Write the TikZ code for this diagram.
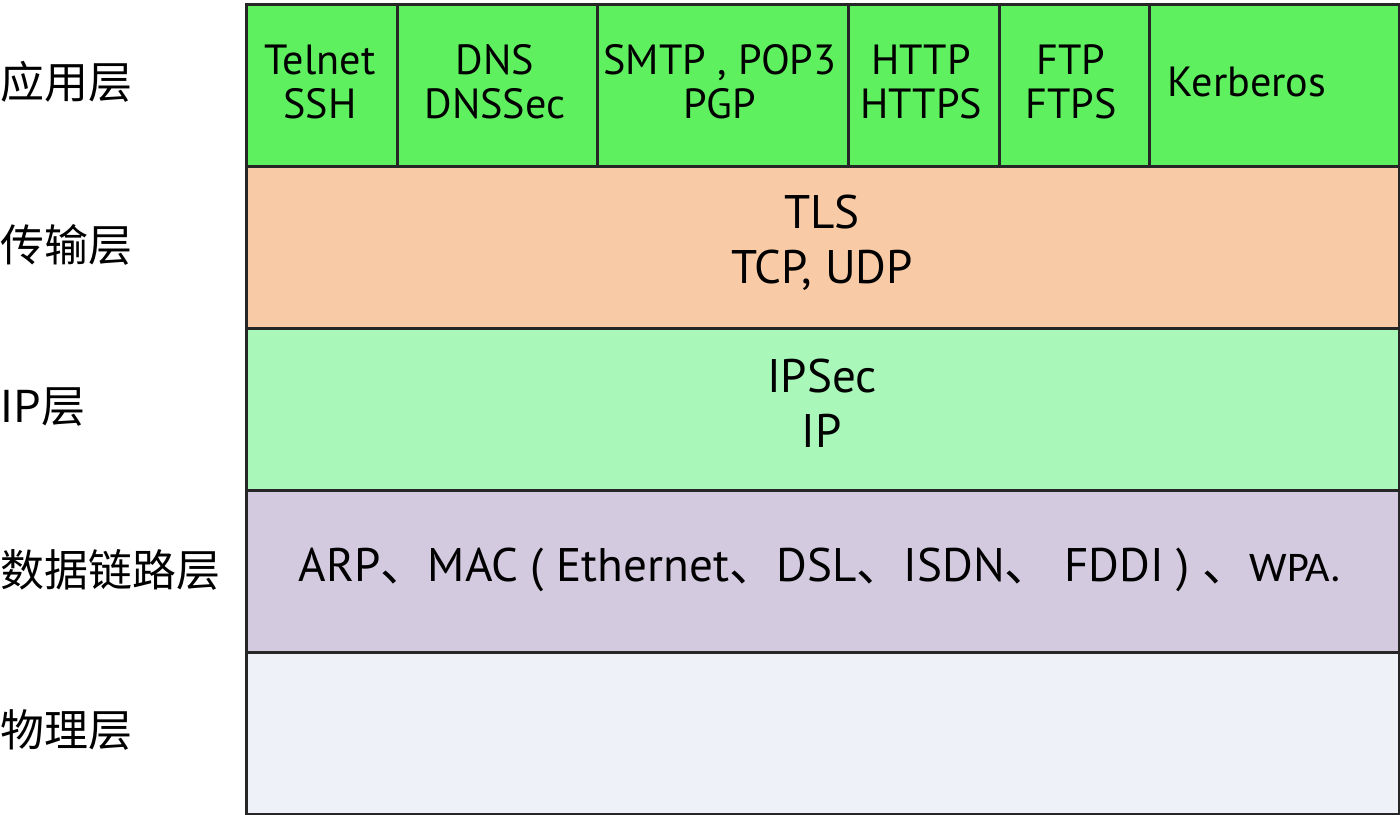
\documentclass[tikz,border=0pt]{standalone}
\usepackage{fontspec}
\setmainfont{PT Sans}
\newfontfamily\cjk{Noto Sans CJK SC}
\newfontfamily\wpafont{Carlito}
\usepackage{tikz}
\usetikzlibrary{positioning}
\definecolor{appgreen}{HTML}{5EF05E}
\definecolor{transpeach}{HTML}{F8CBA6}
\definecolor{ipgreen}{HTML}{A9F8B9}
\definecolor{linklilac}{HTML}{D3CADF}
\definecolor{physgray}{HTML}{EEF1F7}
\begin{document}
\begin{tikzpicture}[
  cell/.style={draw=black!85, line width=0.8pt, anchor=north west, inner sep=0pt},
  proto/.style={font=\fontsize{12}{12.5}\selectfont, align=center},
  bigproto/.style={font=\fontsize{13.4}{15.6}\selectfont, align=center},
  layer/.style={font=\cjk\fontsize{12.5}{15}\selectfont, anchor=west, inner sep=0pt}]
\useasboundingbox (0,0) rectangle (14,8.15);
% Rows of the stack
\node[cell, fill=physgray, minimum width=11.53cm, minimum height=1.62cm] (physrow) at (2.45,1.64) {};
\node[cell, fill=linklilac, minimum width=11.53cm, minimum height=1.62cm] (linkrow) at (2.45,3.26) {};
\node[cell, fill=ipgreen, minimum width=11.53cm, minimum height=1.62cm] (iprow) at (2.45,4.88) {};
\node[cell, fill=transpeach, minimum width=11.53cm, minimum height=1.62cm] (transrow) at (2.45,6.50) {};
% Application cells
\node[cell, fill=appgreen, minimum width=1.51cm, minimum height=1.62cm] (telnet) at (2.45,8.12) {};
\node[cell, fill=appgreen, minimum width=2.00cm, minimum height=1.62cm] (dns) at (3.96,8.12) {};
\node[cell, fill=appgreen, minimum width=2.51cm, minimum height=1.62cm] (smtp) at (5.96,8.12) {};
\node[cell, fill=appgreen, minimum width=1.51cm, minimum height=1.62cm] (http) at (8.47,8.12) {};
\node[cell, fill=appgreen, minimum width=1.50cm, minimum height=1.62cm] (ftp) at (9.98,8.12) {};
\node[cell, fill=appgreen, minimum width=2.50cm, minimum height=1.62cm] (kerb) at (11.48,8.12) {};
% Protocol texts
\node[proto] (telnettxt) at (3.20,7.33) {Telnet\\SSH};
\node[proto] (dnstxt) at (4.95,7.33) {DNS\\DNSSec};
\node[proto] (smtptxt) at (7.20,7.33) {SMTP , POP3\\PGP};
\node[proto] (httptxt) at (9.21,7.33) {HTTP\\HTTPS};
\node[proto] (ftptxt) at (10.71,7.33) {FTP\\FTPS};
\node[proto] (kerbtxt) at (12.47,7.33) {Kerberos};
\node[bigproto] (transtxt) at (8.22,5.72) {TLS\\TCP, UDP};
\node[bigproto] (iptxt) at (8.22,4.12) {IPSec\\IP};
\node[bigproto] (linktxt) at (8.20,2.45)
  {ARP{\cjk 、}MAC ( Ethernet{\cjk 、}DSL{\cjk 、}ISDN{\cjk 、} FDDI ) {\cjk 、}{\wpafont\fontsize{12}{14}\selectfont WPA.}};
% Layer names
\node[layer] (applayer) at (0,7.33) {应用层};
\node[layer] (translayer) at (0,5.70) {传输层};
\node[layer] (iplayer) at (0,4.08) {IP层};
\node[layer] (linklayer) at (0,2.45) {数据链路层};
\node[layer] (physlayer) at (0,0.85) {物理层};
\end{tikzpicture}
\end{document}
